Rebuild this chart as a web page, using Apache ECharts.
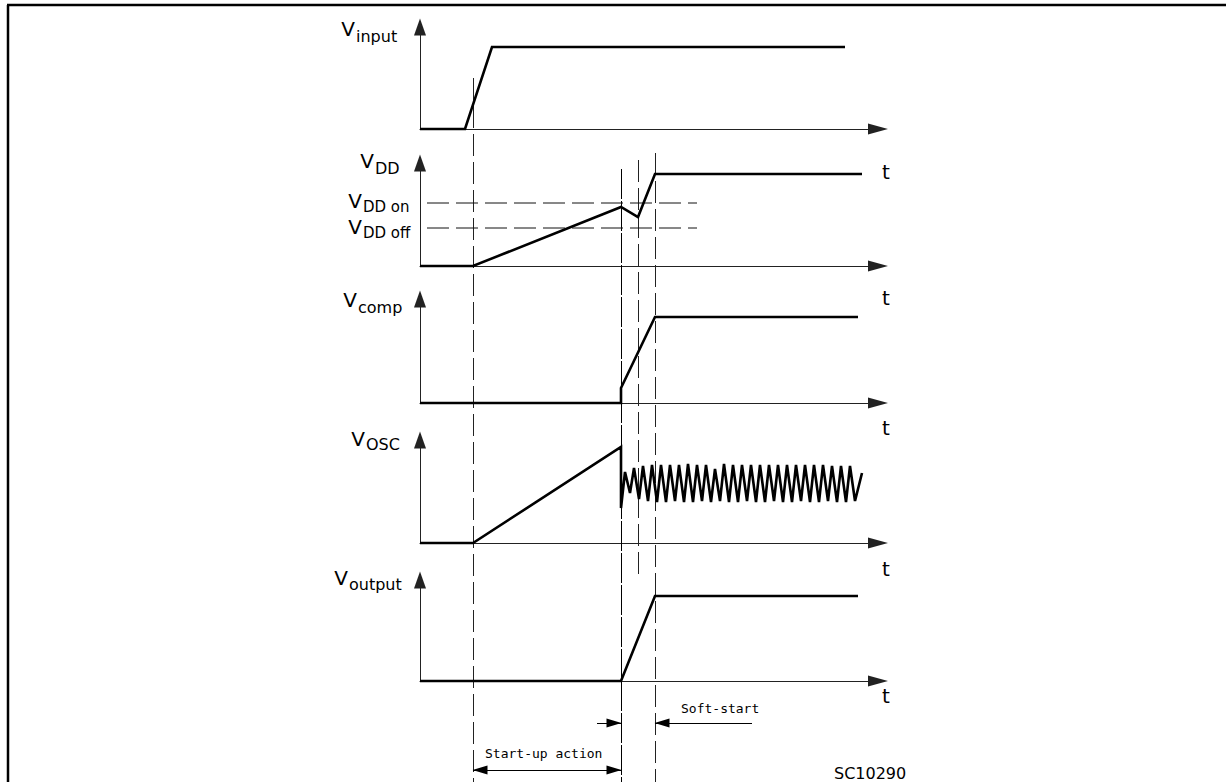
<!DOCTYPE html>
<html><head><meta charset="utf-8">
<script src="https://cdn.jsdelivr.net/npm/echarts@6/dist/echarts.min.js"></script>
<style>html,body{margin:0;padding:0;background:#fff}#c{width:1226px;height:782px}</style>
</head><body><div id="c"></div>
<script>
// ---- data (time in shared arbitrary units, levels in arbitrary units above each baseline) ----
const timeMax = 458;
const vinTime = [0, 45, 72, 425];
const vinLevel = [0, 0, 82, 82];
const vddTime = [0, 53, 201, 218, 235, 442];
const vddLevel = [0, 0, 59, 49, 92, 92];
const thresholdNames = ['DD on', 'DD off'];
const thresholdLevel = [63, 38];
const thresholdSpan = [7, 277];
const compTime = [0, 201, 201, 235, 438];
const compLevel = [0, 0, 15, 86, 86];
const oscRampTime = [0, 53, 201];
const oscRampLevel = [0, 0, 96];
const oscTime = [201,205,210,214,219,223,228,232,237,241,246,250,255,259,264,268,273,277,282,286,291,295,300,304,309,313,318,322,327,331,336,340,345,349,354,358,363,367,372,376,381,385,390,394,399,403,408,412,417,421,426,430,435,442];
const oscLevel = [35,71,50,75,44,77,42,78,41,78,41,78,42,78,41,79,41,78,42,78,41,74,42,79,41,78,41,78,42,78,41,78,41,78,42,78,41,78,41,78,42,78,41,78,41,78,42,77,41,77,41,77,42,70];
const outTime = [0, 201, 235, 438];
const outLevel = [0, 0, 85, 85];
const panelNames = ['input', 'DD', 'comp', 'OSC', 'output'];
const panelMax = [102, 103, 104, 103, 101];
// vertical guides: time, and vertical extent on the page-height guide axis
const guideTime = [53, 201, 218, 235];
const guideFrom = [78, 169, 160, 153];
const guideTo = [782, 782, 580, 782];
const startupSpan = [53, 201];
const softLeft = [177, 201];
const softRight = [332, 235];
const annotationLevel = [723, 770];
const texts = {soft: 'Soft-start', startup: 'Start-up action', code: 'SC10290', t: 't'};

// ---- layout ----
const gridTops = [27, 163, 299, 440, 580];
const zip = (a, b) => a.map((v, i) => [v, b[i]]);
const FONT = 'DejaVu Sans';
const axisColor = '#222';

const grids = [], xAxes = [], yAxes = [], series = [];
gridTops.forEach((top, i) => {
  grids.push({left: 420, top: top, width: timeMax, height: panelMax[i]});
  xAxes.push({type: 'value', gridIndex: i, min: 0, max: timeMax,
    axisLine: {show: true, symbol: ['none', 'triangle'], symbolSize: [11, 20], lineStyle: {color: axisColor, width: 1}},
    axisTick: {show: false}, axisLabel: {show: false}, splitLine: {show: false}});
  yAxes.push({type: 'value', gridIndex: i, min: 0, max: panelMax[i],
    axisLine: {show: true, symbol: ['none', 'triangle'], symbolSize: [12, 17], lineStyle: {color: axisColor, width: 1}},
    axisTick: {show: false}, axisLabel: {show: false}, splitLine: {show: false}});
});
// overlay guide coordinate system spanning page height
grids.push({left: 420, top: 0, width: timeMax, height: 782});
xAxes.push({type: 'value', gridIndex: 5, min: 0, max: timeMax, show: false});
yAxes.push({type: 'value', gridIndex: 5, min: 0, max: 782, inverse: true, show: false});

const sig = (idx, data) => ({type: 'line', xAxisIndex: idx, yAxisIndex: idx, data: data,
  symbol: 'none', clip: false, animation: false, z: 5,
  lineStyle: {color: '#000', width: 2.6, join: 'miter', miterLimit: 10, cap: 'butt'}});

series.push(sig(0, zip(vinTime, vinLevel)));
series.push(sig(1, zip(vddTime, vddLevel)));
series.push(sig(2, zip(compTime, compLevel)));
series.push(sig(3, zip(oscRampTime.concat(oscTime), oscRampLevel.concat(oscLevel))));
series.push(sig(4, zip(outTime, outLevel)));
thresholdLevel.forEach(lv => {
  series.push({type: 'line', xAxisIndex: 1, yAxisIndex: 1, symbol: 'none', clip: false, animation: false,
    data: [[thresholdSpan[0], lv], [thresholdSpan[1], lv]],
    lineStyle: {color: '#111', width: 1, type: [22, 7]}});
});
// vertical guides
series.push({type: 'lines', coordinateSystem: 'cartesian2d', xAxisIndex: 5, yAxisIndex: 5, animation: false,
  data: guideTime.map((t, i) => ({coords: [[t, guideFrom[i]], [t, guideTo[i]]],
    lineStyle: i === 1 ? {color: '#000', width: 1, type: [30, 2], opacity: 1} : {color: '#222', width: 1, type: [22, 6], opacity: 1}})),
  lineStyle: {width: 1, opacity: 1}});
// annotation arrows (arrowhead at the guide end only)
series.push({type: 'lines', coordinateSystem: 'cartesian2d', xAxisIndex: 5, yAxisIndex: 5, animation: false,
  symbol: ['none', 'triangle'], symbolSize: [[9, 15], [9, 15]],
  lineStyle: {color: '#000', width: 1, opacity: 1},
  data: [{coords: [[(startupSpan[0] + startupSpan[1]) / 2, annotationLevel[1]], [startupSpan[0] + 7, annotationLevel[1]]]},
         {coords: [[(startupSpan[0] + startupSpan[1]) / 2, annotationLevel[1]], [startupSpan[1] - 7, annotationLevel[1]]]},
         {coords: [[softLeft[0], annotationLevel[0]], [softLeft[1] - 7, annotationLevel[0]]]},
         {coords: [[softRight[0], annotationLevel[0]], [softRight[1] + 7, annotationLevel[0]]]}]});
// straight segment under arrowheads
series.push({type: 'lines', coordinateSystem: 'cartesian2d', xAxisIndex: 5, yAxisIndex: 5, animation: false,
  lineStyle: {color: '#000', width: 1, opacity: 1},
  data: [{coords: [[startupSpan[0], annotationLevel[1]], [startupSpan[1], annotationLevel[1]]]},
         {coords: [[softLeft[0], annotationLevel[0]], [softLeft[1], annotationLevel[0]]]},
         {coords: [[softRight[1], annotationLevel[0]], [softRight[0], annotationLevel[0]]]}]});

// ---- text ----
const txt = (x, y, s, size, align, family) => ({type: 'text', silent: true, z: 20,
  style: {x: x, y: y, text: s, fill: '#000', fontSize: size, fontFamily: family || FONT,
    align: align, verticalAlign: 'middle', textAlign: align, textVerticalAlign: 'middle'}});
const labels = [
  [355, 29, 36, 'input', 16], [374, 161, 168, 'DD', 16], [362, 201, 207, thresholdNames[0], 15],
  [362, 227, 233, thresholdNames[1], 15], [357, 300, 307, 'comp', 16], [365, 439, 444, 'OSC', 16],
  [348, 578, 584, 'output', 16]];
const graphic = [];
labels.forEach(l => {
  graphic.push(txt(l[0], l[1], 'V', 20, 'right'));
  graphic.push(txt(l[0] + 1, l[2], l[3], l[4], 'left'));
});
[172, 298, 428, 569, 696].forEach(y => graphic.push(txt(886, y, texts.t, 20, 'center')));
graphic.push(txt(681, 708, texts.soft, 13, 'left', 'DejaVu Sans Mono'));
graphic.push(txt(485, 753, texts.startup, 13, 'left', 'DejaVu Sans Mono'));
graphic.push(txt(834, 773, texts.code, 16, 'left'));
graphic.push({type: 'line', silent: true, shape: {x1: 7, y1: 5, x2: 1226, y2: 5}, style: {stroke: '#000', lineWidth: 2.5}});
graphic.push({type: 'line', silent: true, shape: {x1: 8, y1: 5, x2: 8, y2: 782}, style: {stroke: '#000', lineWidth: 2.5}});

const chart = echarts.init(document.getElementById('c'), null, {renderer: 'svg'});
chart.setOption({animation: false, backgroundColor: '#fff', grid: grids, xAxis: xAxes, yAxis: yAxes, series: series, graphic: graphic});
</script></body></html>
